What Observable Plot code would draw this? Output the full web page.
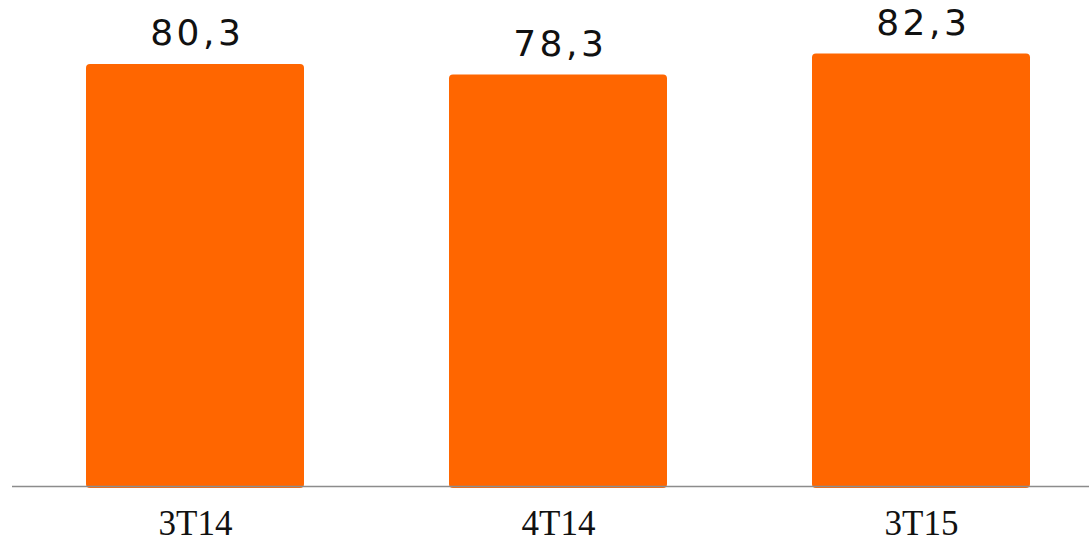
<!DOCTYPE html>
<html>
<head>
<meta charset="utf-8">
<script src="https://cdn.jsdelivr.net/npm/d3@7"></script>
<script src="https://cdn.jsdelivr.net/npm/@observablehq/plot@0.6"></script>
<style>
  html, body { margin: 0; padding: 0; background: #fff; }
  #chart svg { display: block; }
  #chart g[aria-label="text"] text { letter-spacing: 3.5px; }
</style>
</head>
<body>
<div id="chart"></div>
<script>
const categories = ["3T14", "4T14", "3T15"];
const values = [80.3, 78.3, 82.3];
const valueLabels = ["80,3", "78,3", "82,3"];

const data = categories.map((c, i) => ({cat: c, value: values[i], label: valueLabels[i]}));

const chart = Plot.plot({
  width: 1089,
  height: 539,
  marginTop: 0,
  marginLeft: 12,
  marginRight: 0,
  marginBottom: 53,
  style: {background: "#ffffff"},
  x: {domain: categories, range: [13, 1103], paddingInner: 0.4, paddingOuter: 0.2, label: null},
  y: {domain: [0, 92.5], axis: null},
  marks: [
    Plot.barY(data, {x: "cat", y: "value", fill: "#FF6600", rx: 4, insetBottom: -2}),
    Plot.ruleY([0], {stroke: "#8c8c8c", strokeWidth: 1.5}),
    Plot.text(data, {
      x: "cat", y: "value", text: "label",
      lineAnchor: "middle", dy: -31, dx: 1.75,
      fontSize: 36, fontFamily: "DejaVu Sans", fill: "#111"
    }),
    Plot.axisX({
      tickSize: 0, tickPadding: 24, fontSize: 35,
      fontFamily: "Liberation Serif", color: "#111", label: null
    })
  ]
});
document.getElementById("chart").appendChild(chart);
</script>
</body>
</html>
